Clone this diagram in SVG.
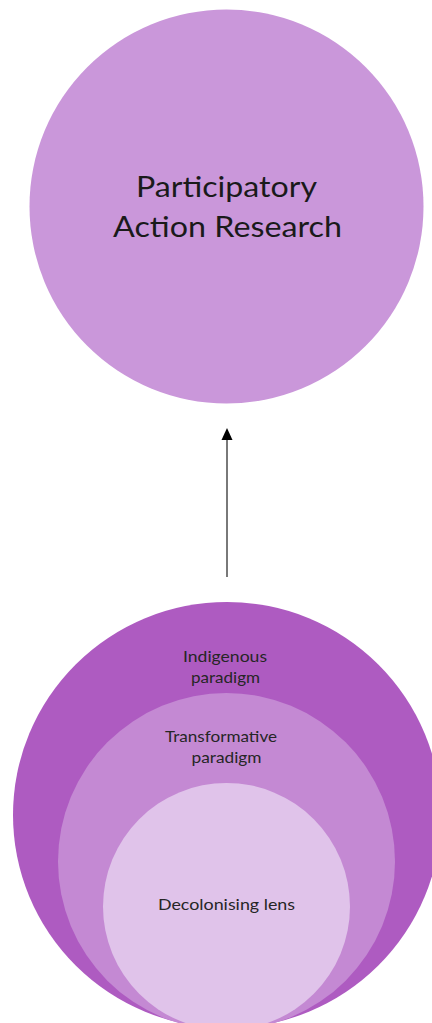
<svg xmlns="http://www.w3.org/2000/svg" width="432" height="1023" viewBox="0 0 432 1023">
<style>
.t{font-family:Lato,"Open Sans","Liberation Sans",sans-serif;fill:#1a1a1a;text-anchor:middle}
.big{font-size:29px}
.sm{font-size:15px;fill:#262626}
</style>
<defs>
<marker id="ah" viewBox="0 0 12 12" refX="6" refY="0" markerWidth="12" markerHeight="12" markerUnits="userSpaceOnUse" orient="auto-start-reverse">
<path d="M0,12 L6,0 L12,12 Z" fill="#000"/>
</marker>
</defs>
<rect width="432" height="1023" fill="#fff"/>
<g id="par">
<circle cx="226.5" cy="206.5" r="197" fill="#CA97DA"/>
<text class="t big" x="226.5" y="197" textLength="181" lengthAdjust="spacingAndGlyphs">Participatory</text>
<text class="t big" x="227.5" y="237" textLength="229" lengthAdjust="spacingAndGlyphs">Action Research</text>
</g>
<g id="connectors">
<line x1="227" y1="577" x2="227" y2="438" stroke="#404040" stroke-width="1.4"/>
<path d="M227,428 L221.5,440 L232.5,440 Z" fill="#000"/>
</g>
<g id="indigenous">
<ellipse cx="227" cy="815" rx="214" ry="213" fill="#AE5BC1"/>
<text class="t sm" x="225" y="662" textLength="84" lengthAdjust="spacingAndGlyphs">Indigenous</text>
<text class="t sm" x="225.5" y="683" textLength="69" lengthAdjust="spacingAndGlyphs">paradigm</text>
</g>
<g id="transformative">
<circle cx="226.5" cy="861.5" r="168.5" fill="#C489D3"/>
<text class="t sm" x="221" y="742" textLength="112" lengthAdjust="spacingAndGlyphs">Transformative</text>
<text class="t sm" x="226.5" y="763" textLength="70" lengthAdjust="spacingAndGlyphs">paradigm</text>
</g>
<g id="decolonising">
<circle cx="226.5" cy="906.5" r="123.5" fill="#E0C3EA"/>
<text class="t sm" x="226.5" y="910" textLength="137" lengthAdjust="spacingAndGlyphs">Decolonising lens</text>
</g>
</svg>
